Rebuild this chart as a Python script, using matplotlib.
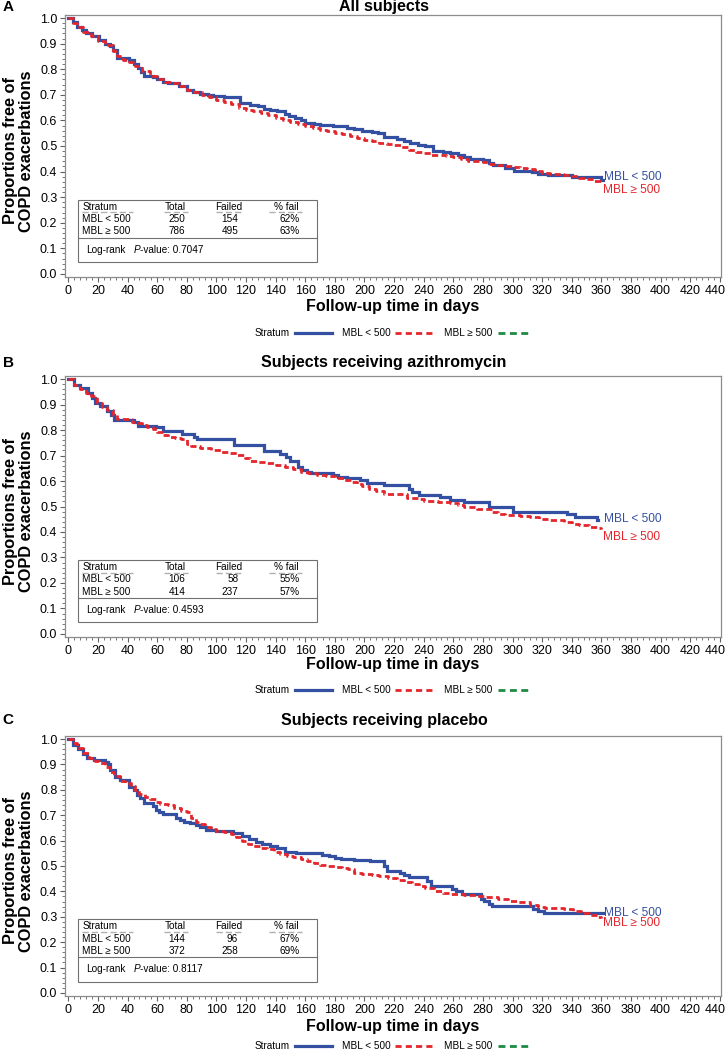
import matplotlib
matplotlib.use("Agg")
import matplotlib.pyplot as plt
from matplotlib.lines import Line2D
from matplotlib.patches import Rectangle
from matplotlib.ticker import MultipleLocator, FuncFormatter

plt.rcParams['font.family'] = ['Liberation Sans', 'DejaVu Sans']

BLUE = '#3450a2'
RED = '#e3262c'
GREEN = '#1e8a44'
GRAY = '#8c8c8c'

# ---- data (day, proportion free of exacerbation) ----
a_low_t = [0, 3, 6, 9, 12, 16, 21, 25, 28, 30, 33, 41, 44, 47, 49, 51, 57, 60, 64, 67, 75, 80, 84, 89,
           94, 98, 105, 112, 116, 123, 128, 132, 136, 141, 146, 149, 153, 157, 160, 166, 170, 179, 188,
           193, 198, 205, 209, 213, 222, 227, 231, 236, 241, 246, 253, 258, 263, 267, 271, 280, 284,
           287, 295, 301, 313, 317, 324, 331, 340, 348, 360, 361]
a_low_s = [1.0, 0.985, 0.967, 0.955, 0.94, 0.93, 0.915, 0.9, 0.89, 0.876, 0.842, 0.835, 0.82, 0.805,
           0.79, 0.775, 0.77, 0.76, 0.75, 0.745, 0.735, 0.72, 0.712, 0.705, 0.698, 0.695, 0.693, 0.69,
           0.668, 0.662, 0.657, 0.645, 0.64, 0.635, 0.625, 0.616, 0.61, 0.6, 0.59, 0.586, 0.583, 0.577,
           0.57, 0.565, 0.56, 0.556, 0.55, 0.535, 0.527, 0.52, 0.51, 0.505, 0.5, 0.482, 0.478, 0.473,
           0.465, 0.456, 0.45, 0.447, 0.435, 0.427, 0.414, 0.404, 0.4, 0.392, 0.388, 0.385, 0.38,
           0.378, 0.366, 0.366]
a_high_t = [0, 3, 6, 10, 15, 20, 25, 30, 33, 37, 41, 45, 50, 55, 60, 65, 70, 75, 80, 85, 90, 95, 100,
            105, 110, 115, 120, 125, 130, 135, 140, 145, 150, 155, 160, 165, 170, 175, 180, 185, 190,
            195, 200, 205, 210, 215, 220, 225, 230, 235, 240, 245, 250, 255, 260, 265, 270, 275, 280,
            285, 290, 295, 300, 305, 310, 315, 320, 325, 330, 335, 340, 345, 350, 355, 360]
a_high_s = [1.0, 0.98, 0.965, 0.945, 0.928, 0.91, 0.893, 0.87, 0.85, 0.838, 0.828, 0.812, 0.795,
            0.775, 0.76, 0.752, 0.745, 0.735, 0.72, 0.71, 0.7, 0.69, 0.68, 0.672, 0.665, 0.65, 0.642,
            0.635, 0.628, 0.62, 0.61, 0.6, 0.593, 0.587, 0.578, 0.571, 0.564, 0.558, 0.552, 0.547,
            0.54, 0.53, 0.525, 0.518, 0.512, 0.508, 0.505, 0.497, 0.485, 0.478, 0.472, 0.466, 0.463,
            0.46, 0.456, 0.448, 0.443, 0.441, 0.438, 0.428, 0.425, 0.42, 0.417, 0.413, 0.41, 0.402,
            0.395, 0.392, 0.39, 0.387, 0.383, 0.376, 0.37, 0.362, 0.356]

b_low_t = [0, 3.5, 8, 13.5, 16, 18, 21.5, 26, 29, 31, 44, 47, 59, 64, 77, 85, 87, 112, 132, 143, 147,
           150, 155, 158, 161, 164, 179, 182, 188, 197, 202, 213, 230, 232, 237, 251, 258, 267, 284,
           300, 337, 342, 357, 358]
b_low_s = [1.0, 0.977, 0.963, 0.944, 0.925, 0.905, 0.893, 0.874, 0.86, 0.84, 0.83, 0.817, 0.81,
           0.797, 0.786, 0.773, 0.764, 0.742, 0.718, 0.706, 0.693, 0.678, 0.655, 0.642, 0.636, 0.63,
           0.623, 0.614, 0.61, 0.603, 0.593, 0.586, 0.57, 0.557, 0.547, 0.538, 0.527, 0.518, 0.499,
           0.48, 0.469, 0.457, 0.447, 0.447]
b_high_t = [0, 3.5, 8, 12, 15, 19, 23, 26, 30, 33, 39, 43, 46, 50, 53, 57, 60, 64, 67, 72, 76, 80,
            83, 89, 96, 103, 109, 114, 119, 123, 128, 134, 140, 146, 152, 157, 162, 168, 174, 180,
            186, 191, 195, 198, 203, 208, 213, 224, 229, 236, 240, 250, 258, 263, 267, 276, 286, 290,
            295, 305, 312, 318, 324, 335, 340, 345, 352, 358, 360]
b_high_s = [1.0, 0.977, 0.96, 0.945, 0.935, 0.905, 0.89, 0.878, 0.86, 0.845, 0.842, 0.832, 0.826,
            0.818, 0.813, 0.803, 0.793, 0.782, 0.774, 0.77, 0.764, 0.745, 0.738, 0.728, 0.722, 0.715,
            0.71, 0.702, 0.69, 0.678, 0.674, 0.669, 0.662, 0.656, 0.646, 0.636, 0.63, 0.623, 0.618,
            0.613, 0.605, 0.597, 0.588, 0.581, 0.57, 0.56, 0.551, 0.548, 0.534, 0.528, 0.522, 0.517,
            0.512, 0.505, 0.499, 0.49, 0.479, 0.472, 0.466, 0.462, 0.459, 0.452, 0.446, 0.44, 0.433,
            0.427, 0.42, 0.414, 0.41]

c_low_t = [0, 3.4, 6.8, 10, 12.4, 17, 25, 27, 28, 31.6, 35, 40.6, 44, 46, 48.5, 50.8, 57, 59, 61, 64,
           73, 75.6, 78, 82, 86, 89, 93, 100, 111, 117, 122, 127, 131, 136, 141, 146, 154, 171, 176,
           180, 184, 193, 204, 213, 215.5, 224, 227, 230, 242, 245, 259, 262, 266, 279, 281, 284,
           286, 314, 317, 321, 361]
c_low_s = [1.0, 0.976, 0.96, 0.943, 0.924, 0.917, 0.91, 0.9, 0.88, 0.852, 0.84, 0.813, 0.8, 0.78,
           0.767, 0.748, 0.735, 0.72, 0.713, 0.706, 0.689, 0.683, 0.675, 0.669, 0.66, 0.652, 0.643,
           0.637, 0.63, 0.618, 0.605, 0.596, 0.588, 0.577, 0.57, 0.557, 0.55, 0.542, 0.538, 0.533,
           0.529, 0.525, 0.518, 0.499, 0.482, 0.472, 0.463, 0.455, 0.44, 0.42, 0.411, 0.4, 0.39,
           0.372, 0.361, 0.352, 0.344, 0.332, 0.322, 0.313, 0.313]
c_high_t = [0, 3, 6, 10, 14, 18, 21, 25, 28, 31, 35, 38, 42, 45, 48, 52, 55, 59, 62, 67, 71, 76, 80,
            83, 86, 89, 92, 96, 100, 105, 110, 113, 117, 121, 125, 130, 134, 139, 143, 148, 152, 157,
            161, 166, 170, 175, 180, 185, 189, 193, 198, 205, 210, 216, 222, 227, 232, 237, 241, 247,
            253, 258, 267, 275, 282, 290, 297, 303, 312, 317, 322, 335, 341, 346, 352, 357, 360]
c_high_s = [1.0, 0.985, 0.965, 0.944, 0.924, 0.915, 0.905, 0.89, 0.872, 0.855, 0.835, 0.825, 0.815,
            0.8, 0.782, 0.772, 0.762, 0.752, 0.745, 0.74, 0.73, 0.715, 0.712, 0.69, 0.675, 0.665,
            0.652, 0.645, 0.638, 0.632, 0.625, 0.615, 0.598, 0.588, 0.578, 0.572, 0.565, 0.555,
            0.546, 0.54, 0.534, 0.528, 0.521, 0.512, 0.505, 0.5, 0.496, 0.492, 0.488, 0.474, 0.469,
            0.466, 0.462, 0.453, 0.445, 0.438, 0.43, 0.42, 0.413, 0.4, 0.395, 0.391, 0.385, 0.38,
            0.376, 0.372, 0.364, 0.358, 0.348, 0.34, 0.335, 0.329, 0.322, 0.315, 0.307, 0.298, 0.294]

titles = ['All subjects', 'Subjects receiving azithromycin', 'Subjects receiving placebo']
letters = ['A', 'B', 'C']
strata = ['MBL < 500', 'MBL \u2265 500']
totals = [[250, 786], [106, 414], [144, 372]]
failed = [[154, 495], [58, 237], [96, 258]]
pct_fail = [['62%', '63%'], ['55%', '57%'], ['67%', '69%']]
p_values = ['0.7047', '0.4593', '0.8117']

curves = [(a_low_t, a_low_s, a_high_t, a_high_s),
          (b_low_t, b_low_s, b_high_t, b_high_s),
          (c_low_t, c_low_s, c_high_t, c_high_s)]

# ---- layout (figure fractions, pixel based on 726x1052) ----
W, H = 726.0, 1052.0
axes_px = [(15, 277), (376, 637), (736, 996)]      # top, bottom spine
title_px = [7, 363, 720]
xlabel_px = [307, 665, 1027]
legend_px = [333, 690, 1046]
end_label_y = [(0.378, 0.329), (0.449, 0.381), (0.313, 0.274)]

fig = plt.figure(figsize=(7.26, 10.52), dpi=100)


def draw_table(ax, i):
    y0, y1, ysep = 0.045, 0.29, 0.14
    ax.add_patch(Rectangle((6.5, y0), 161.5, y1 - y0, fill=False, ec='#707070', lw=0.8, zorder=5))
    ax.plot([6.5, 168], [ysep, ysep], color='#707070', lw=0.8, zorder=5)
    fs = 7.2
    yh, yr = 0.263, [0.214, 0.166]
    ax.text(9.3, yh, 'Stratum', fontsize=fs, va='center', ha='left')
    ax.text(72.5, yh, 'Total', fontsize=fs, va='center', ha='center')
    ax.text(108.5, yh, 'Failed', fontsize=fs, va='center', ha='center')
    ax.text(147, yh, '% fail', fontsize=fs, va='center', ha='center')
    # dashed grey underline below each header
    for (xa, xb) in [(9.3, 43.7), (64.6, 80.8), (99.6, 117.5), (135.8, 157.7)]:
        ax.plot([xa, xb], [yh - 0.022] * 2, color='#b0b0b0', lw=1.0, dashes=(4.5, 2.2), zorder=5)
    for r in range(2):
        ax.text(9.3, yr[r], strata[r], fontsize=fs, va='center', ha='left')
        ax.text(79, yr[r], str(totals[i][r]), fontsize=fs, va='center', ha='right')
        ax.text(114.7, yr[r], str(failed[i][r]), fontsize=fs, va='center', ha='right')
        ax.text(156, yr[r], pct_fail[i][r], fontsize=fs, va='center', ha='right')
    ax.text(11.7, 0.095, 'Log-rank', fontsize=fs, va='center', ha='left')
    ax.text(44, 0.095, 'P', fontsize=fs, va='center', ha='left', style='italic')
    ax.text(48.5, 0.095, '-value: ' + p_values[i], fontsize=fs, va='center', ha='left')


for i in range(3):
    top, bot = axes_px[i]
    ax = fig.add_axes([65 / W, 1 - bot / H, 655.5 / W, (bot - top) / H])
    lt, ls, ht, hs = curves[i]
    ax.step(lt, ls, where='post', color=BLUE, lw=2.3, zorder=3, solid_joinstyle='miter')
    ax.step(ht, hs, where='post', color=RED, lw=2.0, dashes=(2.2, 1.2), zorder=4)

    ax.set_xlim(-2.3, 440.5)
    ax.set_ylim(-0.012, 1.012)
    ax.xaxis.set_major_locator(MultipleLocator(20))
    ax.xaxis.set_minor_locator(MultipleLocator(4))
    # last label (440) is drawn separately, nudged left so it stays inside the figure
    ax.xaxis.set_major_formatter(FuncFormatter(lambda v, p: '' if v > 430 else '%d' % v))
    ax.yaxis.set_major_locator(MultipleLocator(0.1))
    ax.yaxis.set_minor_locator(MultipleLocator(0.02))
    ax.yaxis.set_major_formatter(matplotlib.ticker.FormatStrFormatter('%.1f'))
    ax.tick_params(which='major', length=3.5, width=0.8, color='#606060', labelsize=9, pad=2)
    ax.tick_params(which='minor', length=2, width=0.6, color='#606060')
    for sp in ax.spines.values():
        sp.set_color(GRAY)
        sp.set_linewidth(0.9)
    ax.annotate('440', xy=(440, 0), xycoords=('data', 'axes fraction'), xytext=(-3, -5.5),
                textcoords='offset points', ha='center', va='top', fontsize=9)

    ly_low, ly_high = end_label_y[i]
    ax.text(362, ly_low, strata[0], color=BLUE, fontsize=8.6, va='center', ha='left')
    ax.text(361, ly_high, strata[1], color=RED, fontsize=8.6, va='center', ha='left')

    draw_table(ax, i)

    fig.text(384 / W, 1 - title_px[i] / H, titles[i], fontsize=11.5, fontweight='bold',
             ha='center', va='center')
    fig.text(8 / W, 1 - title_px[i] / H, letters[i], fontsize=11, fontweight='bold',
             ha='center', va='center')
    fig.text(392.5 / W, 1 - xlabel_px[i] / H, 'Follow-up time in days', fontsize=11.5,
             fontweight='bold', ha='center', va='center')
    fig.text(18.5 / W, 1 - (top + bot) / 2 / H - 5 / H,
             'Proportions free of\nCOPD exacerbations', fontsize=11.8, fontweight='bold',
             rotation=90, ha='center', va='center', linespacing=1.05)

    # SAS-style legend row under each panel
    ly = 1 - legend_px[i] / H
    fig.text(272 / W, ly, 'Stratum', fontsize=7.2, ha='center', va='center')
    fig.add_artist(Line2D([295 / W, 332 / W], [ly, ly], color=BLUE, lw=2.3))
    fig.text(366 / W, ly, strata[0], fontsize=7.2, ha='center', va='center')
    fig.add_artist(Line2D([395 / W, 432 / W], [ly, ly], color=RED, lw=2.0, dashes=(2.2, 1.5)))
    fig.text(468 / W, ly, strata[1], fontsize=7.2, ha='center', va='center')
    fig.add_artist(Line2D([498 / W, 532 / W], [ly, ly], color=GREEN, lw=2.0, dashes=(2.5, 1.6)))

fig.savefig('out.png', dpi=100)
